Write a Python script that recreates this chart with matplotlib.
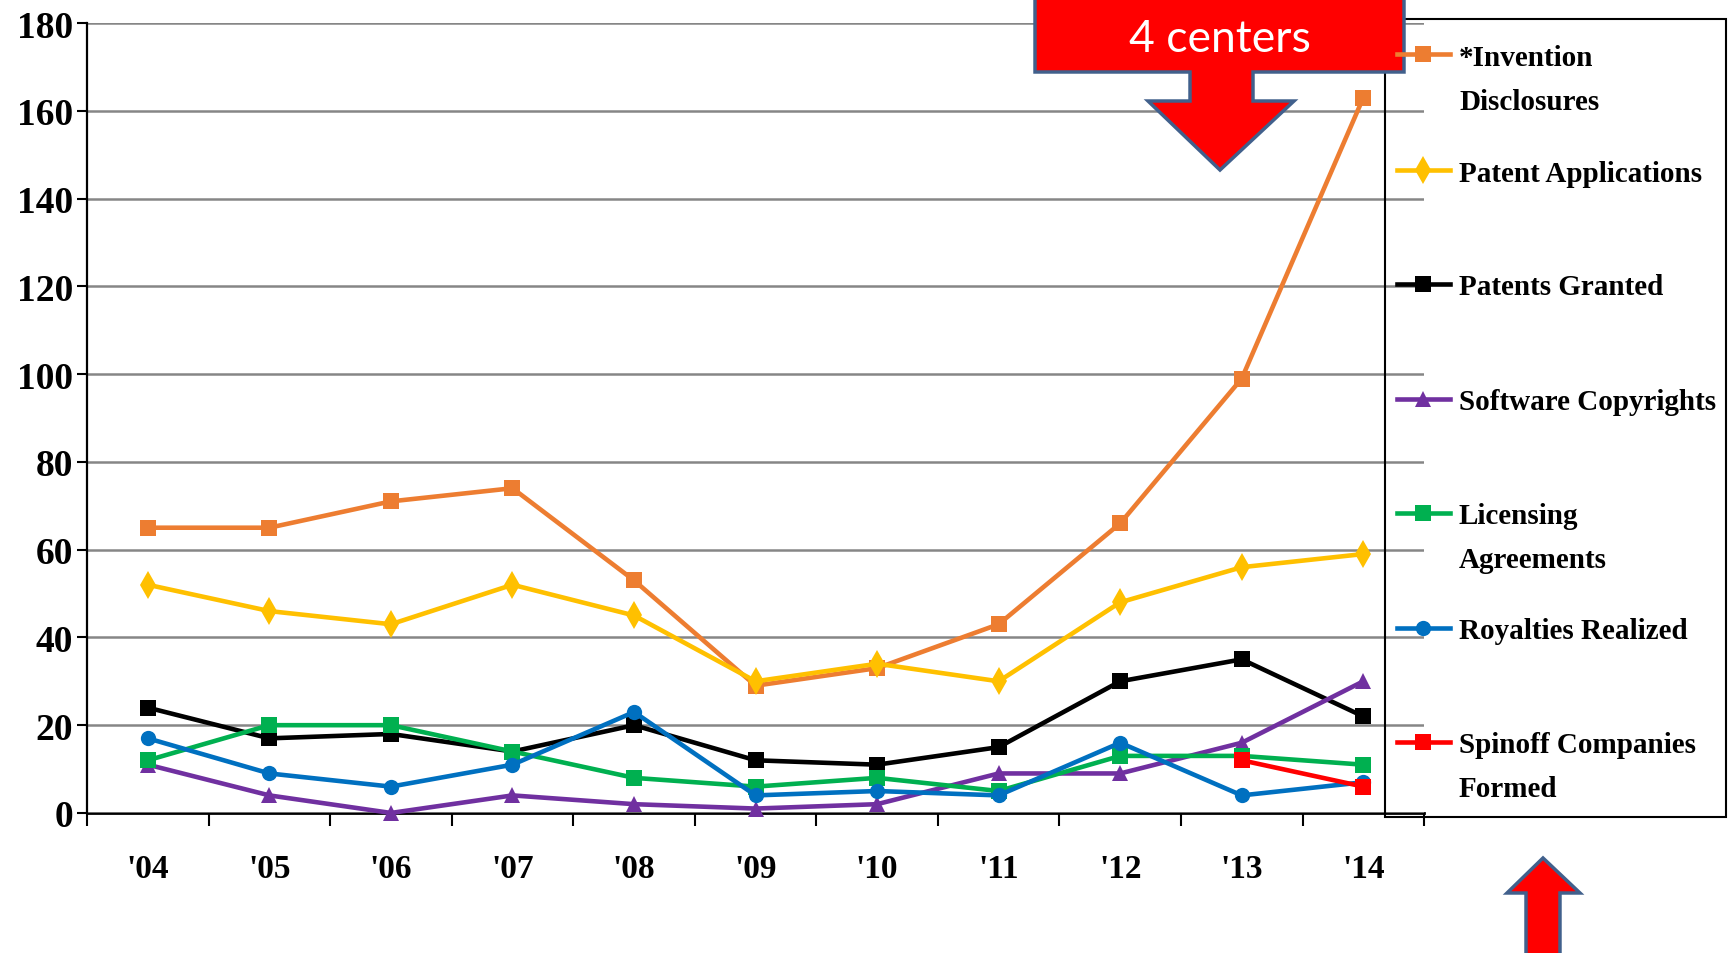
import matplotlib
matplotlib.use('Agg')
import matplotlib.pyplot as plt
from matplotlib.patches import Polygon, Rectangle
import numpy as np

years = ["'04", "'05", "'06", "'07", "'08", "'09", "'10", "'11", "'12", "'13", "'14"]
invention = [65, 65, 71, 74, 53, 29, 33, 43, 66, 99, 163]
patent_apps = [52, 46, 43, 52, 45, 30, 34, 30, 48, 56, 59]
patents_granted = [24, 17, 18, 14, 20, 12, 11, 15, 30, 35, 22]
software = [11, 4, 0, 4, 2, 1, 2, 9, 9, 16, 30]
licensing = [12, 20, 20, 14, 8, 6, 8, 5, 13, 13, 11]
royalties = [17, 9, 6, 11, 23, 4, 5, 4, 16, 4, 7]
spinoff = [np.nan] * 9 + [12, 6]

labels = ["*Invention\nDisclosures", "Patent Applications", "Patents Granted",
          "Software Copyrights", "Licensing\nAgreements", "Royalties Realized",
          "Spinoff Companies\nFormed"]
values = [invention, patent_apps, patents_granted, software, licensing, royalties, spinoff]
colors = ["#ED7D31", "#FFC000", "#000000", "#7030A0", "#00B050", "#0070C0", "#FF0000"]
markers = ["s", "d", "s", "^", "s", "o", "s"]
msizes = [11, 14, 12, 12, 11, 11, 12]

serif = ["Liberation Serif", "DejaVu Serif"]

fig = plt.figure(figsize=(17.31, 9.54), dpi=100)
ax = fig.add_axes([0.0503, 0.1468, 0.8227 - 0.0503, 0.9748 - 0.1468])

x = np.arange(len(years))
for lab, v, c, m, ms in zip(labels, values, colors, markers, msizes):
    ax.plot(x, v, color=c, lw=3.3, marker=m, markersize=ms, markeredgewidth=0,
            label=lab, clip_on=False)

ax.set_xlim(-0.5, len(years) - 0.5)
ax.set_ylim(0, 180)
ax.set_yticks(np.arange(0, 181, 20))
ax.yaxis.grid(True, color="#868686", lw=1.8)
ax.set_axisbelow(True)
for s in ["top", "right"]:
    ax.spines[s].set_visible(False)
ax.spines["left"].set_linewidth(1.6)
ax.spines["bottom"].set_linewidth(2.0)
ax.spines["bottom"].set_zorder(0.5)

ax.set_xticks(x)
ax.set_xticklabels(years)
ax.set_xticks(np.arange(-0.5, len(years), 1.0), minor=True)
ax.tick_params(axis="x", which="major", length=0, pad=29)
ax.tick_params(axis="x", which="minor", length=9, width=1.5, direction="out")
ax.tick_params(axis="y", length=7, width=1.5, pad=3)
for t in ax.get_xticklabels():
    t.set_fontfamily(serif); t.set_fontweight("bold"); t.set_fontsize(24)
for t in ax.get_yticklabels():
    t.set_fontfamily(serif); t.set_fontweight("bold"); t.set_fontsize(27)

# overlay in pixel coordinates
ov = fig.add_axes([0, 0, 1, 1], zorder=10)
ov.set_xlim(0, 1731)
ov.set_ylim(954, 0)
ov.axis("off")

# legend box
ov.add_patch(Rectangle((1385, 20), 1726 - 1385, 818 - 20, fill=False,
                       edgecolor="black", lw=1.5))
entry_y = [55, 171, 285, 400, 514, 629, 743]
for lab, c, m, ms, yy in zip(labels, colors, markers, msizes, entry_y):
    ov.plot([1397, 1450], [yy, yy], color=c, lw=3.3)
    ov.plot([1423.5], [yy], color=c, marker=m, markersize=ms, markeredgewidth=0)
    for k, line in enumerate(lab.split("\n")):
        ov.text(1459, yy + k * 44, line, fontfamily=serif, fontweight="bold",
                fontsize=21, va="center_baseline", ha="left")

# top callout arrow
call = [(1035, -5), (1404, -5), (1404, 73), (1253, 73), (1253, 102), (1294, 102),
        (1220, 171), (1148, 102), (1190, 102), (1190, 73), (1035, 73)]
ov.add_patch(Polygon(call, closed=True, facecolor="#FF0000", edgecolor="#41608C",
                     lw=2.5, joinstyle="miter"))
ov.text(1220, 40, "4 centers", color="white", fontfamily=["Lato", "DejaVu Sans"],
        fontsize=32, ha="center", va="center")

# bottom up-arrow
up = [(1526, 960), (1526, 894), (1507, 894), (1543, 859), (1580, 894),
      (1560, 894), (1560, 960)]
ov.add_patch(Polygon(up, closed=True, facecolor="#FF0000", edgecolor="#41608C",
                     lw=2.5, joinstyle="miter"))

fig.savefig("out.png", dpi=100)
